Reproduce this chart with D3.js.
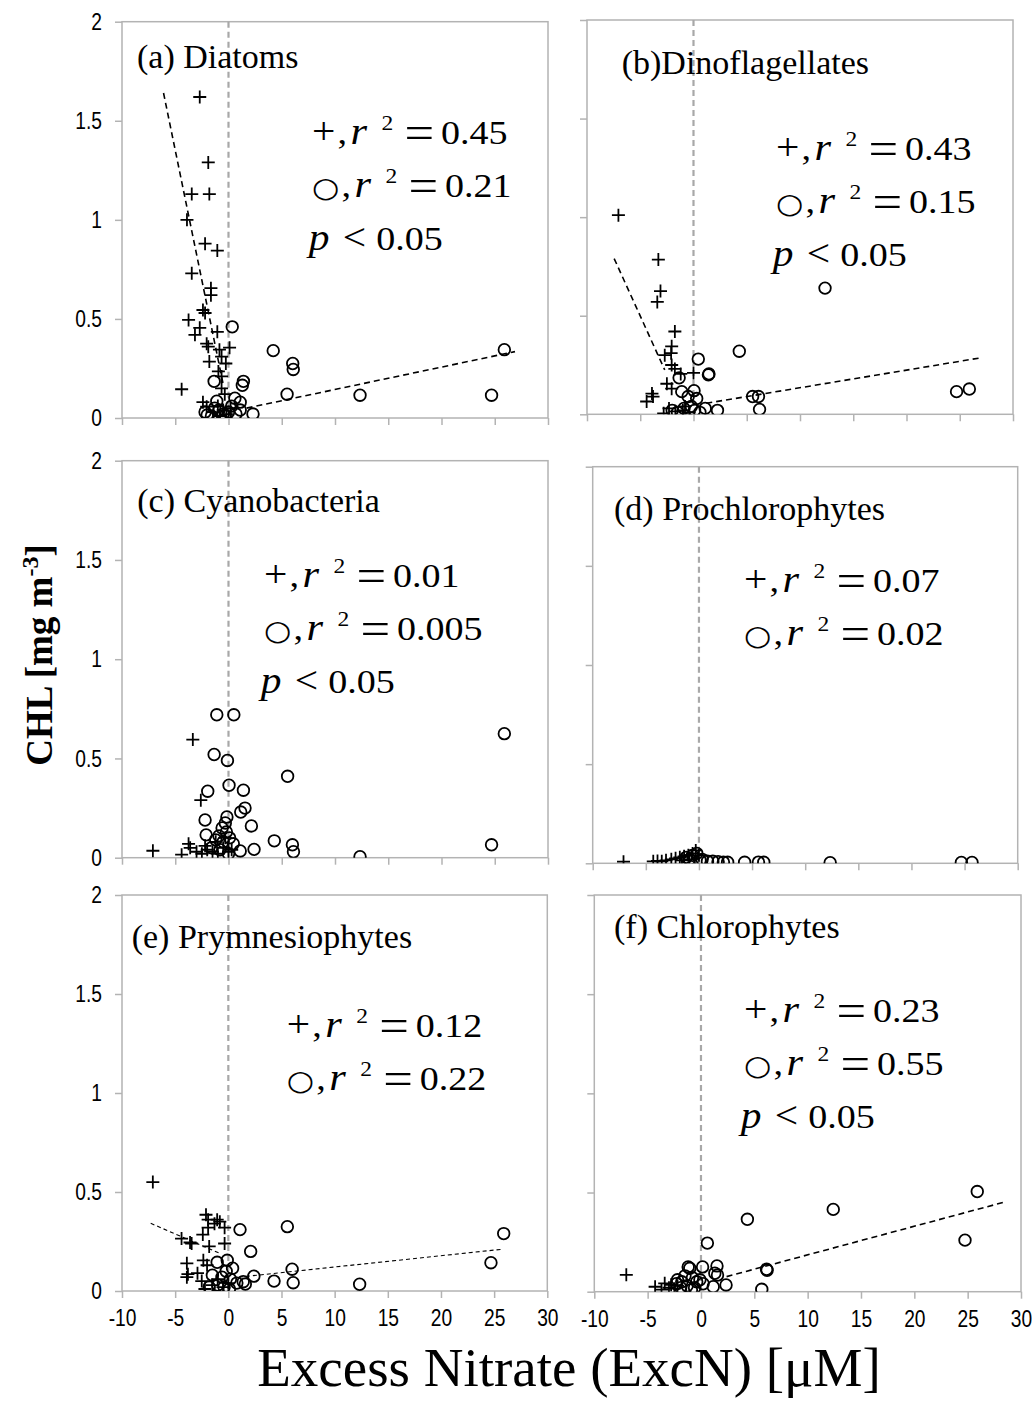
<!DOCTYPE html>
<html>
<head>
<meta charset="utf-8">
<script src="https://cdn.jsdelivr.net/npm/d3@7"></script>
<style>
  body { margin: 0; background: #fff; }
  svg { display: block; }
</style>
</head>
<body>
<svg width="1032" height="1408"></svg>
<script>
// ---- axis setup shared by all six panels
const xDomain = [-10, 30];
const yDomain = [0, 2];
const xTicks = [-10, -5, 0, 5, 10, 15, 20, 25, 30];
const yTicks = [0, 0.5, 1, 1.5, 2];

// ---- (a) Diatoms  [ExcN, CHL]
const diatomsPlus = [[-2.7,1.62],[-1.9,1.29],[-3.45,1.13],[-1.8,1.13],[-3.9,1.0],[-2.2,0.88],[-1.05,0.845],
  [-3.45,0.73],[-1.65,0.655],[-1.65,0.62],[-2.4,0.545],[-2.2,0.53],[-3.75,0.495],[-2.7,0.455],[-3.15,0.42],
  [-1.05,0.435],[-2.05,0.375],[-1.9,0.36],[-0.85,0.345],[0.1,0.355],[-0.65,0.31],[-0.25,0.275],[-1.8,0.285],
  [-0.95,0.235],[-0.65,0.21],[-4.4,0.145],[-0.65,0.15],[-0.35,0.12],[-2.4,0.08],[-2.05,0.057],[-1.0,0.06],
  [-0.5,0.04],[-0.2,0.02],[-1.4,0.03],[-0.8,0.01],[0.2,0.05]];
const diatomsCircle = [[0.35,0.46],[4.2,0.34],[6.03,0.275],[6.08,0.245],[1.4,0.185],[1.3,0.165],[-1.35,0.185],
  [5.5,0.12],[0.6,0.1],[1.1,0.08],[1.1,0.04],[2.3,0.02],[-2.2,0.03],[-1.1,0.085],[12.35,0.115],[24.7,0.115],
  [25.9,0.345],[0.3,0.06],[-0.5,0.02],[-1.6,0.01],[-0.9,0.04],[0.0,0.03],[-0.3,0.01],[0.7,0.02],[-1.3,0.05],[-2.0,0.015]];
const diatomsPlusFit = [[-6.1,1.64],[-0.5,0.17]];
const diatomsCircleFit = [[1.7,0.05],[26.9,0.335]];
const diatomsStats = ["0.45", "0.21", "0.05"];

// ---- (b) Dinoflagellates
const dinoPlus = [[-7.05,1.01],[-3.3,0.785],[-3.1,0.625],[-3.4,0.57],[-1.75,0.42],[-2.05,0.345],[-2.1,0.31],
  [-2.7,0.3],[-2.05,0.25],[-1.75,0.23],[0.0,0.21],[-2.5,0.155],[-2.05,0.13],[-3.9,0.105],[-3.8,0.09],[-4.4,0.065],
  [-1.2,0.205],[-2.3,0.03],[-1.7,0.015],[-1.0,0.02],[-0.4,0.01],[-2.8,0.005],[-0.8,0.04]];
const dinoCircle = [[0.45,0.28],[4.3,0.32],[1.4,0.2],[1.45,0.205],[-1.35,0.185],[-1.1,0.115],[0.05,0.12],
  [-0.5,0.09],[0.3,0.08],[1.1,0.03],[2.25,0.02],[5.55,0.09],[6.1,0.09],[6.2,0.025],[12.35,0.64],[24.7,0.115],
  [25.9,0.128],[-0.2,0.04],[-1.5,0.01],[-0.9,0.03],[0.6,0.01],[-2.0,0.02],[0.1,0.02]];
const dinoPlusFit = [[-7.45,0.79],[-2.7,0.225]];
const dinoCircleFit = [[1.2,0.056],[26.8,0.285]];
const dinoStats = ["0.43", "0.15", "0.05"];

// ---- (c) Cyanobacteria
const cyanoPlus = [[-3.35,0.595],[-2.6,0.29],[-7.1,0.035],[-3.75,0.07],[-3.6,0.05],[-4.4,0.015],[-3.0,0.03],
  [-2.5,0.02],[-2.0,0.04],[-1.5,0.03],[-1.0,0.02],[-0.5,0.05],[0.0,0.03],[-2.2,0.06],[-1.2,0.08],[-0.3,0.1],[0.3,0.04]];
const cyanoCircle = [[-1.1,0.72],[0.5,0.72],[-1.35,0.52],[-0.1,0.49],[5.55,0.41],[0.05,0.365],[-1.95,0.335],
  [1.4,0.34],[1.55,0.25],[1.15,0.23],[-2.2,0.19],[-0.15,0.205],[-0.3,0.175],[2.15,0.16],[-2.1,0.115],[-0.9,0.11],
  [-1.2,0.09],[-0.5,0.08],[0.1,0.1],[0.45,0.07],[4.3,0.085],[6.0,0.065],[6.1,0.03],[2.4,0.042],[1.1,0.034],
  [12.35,0.005],[24.7,0.065],[25.9,0.625],[-1.6,0.05],[-0.6,0.15],[-0.2,0.13],[-0.8,0.04],[0.0,0.02]];
const cyanoStats = ["0.01", "0.005", "0.05"];

// ---- (d) Prochlorophytes
const prochloPlus = [[-7.1,0.008],[-4.3,0.01],[-3.9,0.012],[-3.5,0.01],[-3.1,0.015],[-2.6,0.02],[-2.2,0.025],
  [-1.8,0.03],[-1.4,0.035],[-1.0,0.04],[-0.6,0.05],[-0.3,0.065],[0.0,0.04],[-0.9,0.02],[-1.6,0.015]];
const prochloCircle = [[-1.2,0.03],[-0.6,0.04],[-0.2,0.05],[0.3,0.02],[0.8,0.01],[1.3,0.01],[1.8,0.008],
  [2.3,0.006],[2.7,0.005],[4.3,0.005],[5.6,0.006],[6.1,0.005],[12.35,0.003],[24.7,0.004],[25.7,0.004],[-0.9,0.02],[0.1,0.015]];
const prochloStats = ["0.07", "0.02"];

// ---- (e) Prymnesiophytes
const prymPlus = [[-7.1,0.55],[-2.1,0.385],[-1.9,0.36],[-1.05,0.36],[-0.8,0.35],[-1.3,0.34],[-0.35,0.32],
  [-1.9,0.32],[-2.4,0.285],[-4.4,0.265],[-3.45,0.24],[-3.6,0.245],[-1.8,0.225],[-0.35,0.24],[-3.9,0.14],
  [-2.35,0.155],[-3.8,0.085],[-2.9,0.09],[-2.0,0.13],[-3.9,0.07],[-2.5,0.05],[-1.5,0.03],[-1.0,0.06],
  [-2.2,0.01],[-0.5,0.02],[0.0,0.04]];
const prymCircle = [[1.1,0.31],[5.55,0.325],[2.1,0.2],[6.0,0.11],[6.1,0.042],[4.3,0.05],[2.4,0.075],
  [-1.05,0.145],[-0.1,0.155],[0.4,0.115],[1.4,0.047],[1.6,0.035],[12.35,0.034],[24.7,0.143],[25.9,0.29],
  [-1.5,0.08],[-0.6,0.07],[-0.2,0.1],[0.2,0.06],[-1.0,0.03],[-0.4,0.02],[0.8,0.04],[-1.8,0.02],[0.1,0.01]];
const prymPlusFit = [[-7.3,0.342],[-0.8,0.19]];
const prymCircleFit = [[1.0,0.07],[25.6,0.21]];
const prymStats = ["0.12", "0.22"];

// ---- (f) Chlorophytes
const chloroPlus = [[-7.0,0.085],[-4.3,0.025],[-3.4,0.042],[-3.7,0.01],[-3.0,0.02],[-2.8,0.035],[-2.5,0.015],[-2.2,0.03]];
const chloroCircle = [[4.35,0.365],[0.6,0.245],[0.15,0.125],[1.5,0.13],[1.3,0.093],[1.55,0.084],[6.15,0.113],
  [6.2,0.108],[5.7,0.012],[2.35,0.034],[1.15,0.025],[-1.05,0.118],[-1.2,0.125],[12.4,0.415],[25.9,0.505],
  [24.75,0.26],[-2.2,0.06],[-1.8,0.05],[-1.5,0.08],[-0.8,0.07],[-0.4,0.05],[-0.1,0.06],[-1.9,0.02],[-1.3,0.03],
  [-0.6,0.02],[0.2,0.04],[-2.3,0.04],[-0.9,0.01]];
const chloroCircleFit = [[2.4,0.076],[28.6,0.454]];
const chloroStats = ["0.23", "0.55", "0.05"];

const titles = ["(a) Diatoms", "(b)Dinoflagellates", "(c) Cyanobacteria", "(d) Prochlorophytes",
  "(e) Prymnesiophytes", "(f) Chlorophytes"];

var serif = "'Liberation Serif','Times New Roman',Times,serif";
var sans = "'Liberation Sans',Arial,sans-serif";
var grey = "#b3b3b3";

// panel boxes (pixels) and where the texts sit inside them
var panels = [
  { plus: diatomsPlus, circ: diatomsCircle, plusFit: diatomsPlusFit, circFit: diatomsCircleFit, stats: diatomsStats,
    x0: 122, x1: 548, y0: 21.7, y1: 418, row: 0, col: 0, tx: 15, ty: 46.5, sx: 190, sy: 122.3 },
  { plus: dinoPlus, circ: dinoCircle, plusFit: dinoPlusFit, circFit: dinoCircleFit, stats: dinoStats,
    x0: 587, x1: 1013, y0: 20, y1: 414.3, row: 0, col: 1, tx: 34.7, ty: 54, sx: 189, sy: 140 },
  { plus: cyanoPlus, circ: cyanoCircle, stats: cyanoStats,
    x0: 122, x1: 548, y0: 460.7, y1: 857.7, row: 1, col: 0, tx: 15.3, ty: 51, sx: 142, sy: 126 },
  { plus: prochloPlus, circ: prochloCircle, stats: prochloStats,
    x0: 592.7, x1: 1017.7, y0: 466.7, y1: 863.3, row: 1, col: 1, tx: 21.3, ty: 53.3, sx: 151.3, sy: 125 },
  { plus: prymPlus, circ: prymCircle, plusFit: prymPlusFit, circFit: prymCircleFit, stats: prymStats, thinFit: true,
    x0: 122, x1: 547.3, y0: 895, y1: 1291, row: 2, col: 0, tx: 9.7, ty: 53.3, sx: 164.7, sy: 141.7 },
  { plus: chloroPlus, circ: chloroCircle, circFit: chloroCircleFit, stats: chloroStats,
    x0: 594.3, x1: 1021, y0: 895, y1: 1291.7, row: 2, col: 1, tx: 19.7, ty: 43.3, sx: 149.7, sy: 126.7 }
];

var svg = d3.select("svg");
var defs = svg.append("defs");

panels.forEach((p, i) => {
  var x = d3.scaleLinear().domain(xDomain).range([p.x0, p.x1]);
  var y = d3.scaleLinear().domain(yDomain).range([p.y1, p.y0]);
  var g = svg.append("g");

  defs.append("clipPath").attr("id", "clip" + i)
    .append("rect").attr("x", p.x0).attr("y", p.y0)
    .attr("width", p.x1 - p.x0).attr("height", p.y1 - p.y0);

  // ticks (outward) - labels only on the outer panels
  var xa = g.append("g").attr("transform", "translate(0," + p.y1 + ")")
    .call(d3.axisBottom(x).tickValues(xTicks).tickSize(7).tickPadding(11)
      .tickFormat(p.row === 2 ? (d) => String(d) : () => ""));
  var ya = g.append("g").attr("transform", "translate(" + p.x0 + ",0)")
    .call(d3.axisLeft(y).tickValues(yTicks).tickSize(7).tickPadding(13)
      .tickFormat(p.col === 0 ? d3.format("~g") : () => ""));
  [xa, ya].forEach((a) => {
    a.select(".domain").remove();
    a.selectAll(".tick line").attr("stroke", grey).attr("stroke-width", 1.5);
    a.selectAll(".tick text").attr("font-family", sans).attr("font-size", 24).attr("fill", "#000")
      .attr("transform", "scale(0.8,1)");
  });
  ya.selectAll(".tick text").attr("x", -20 / 0.8);

  // frame
  g.append("rect").attr("x", p.x0).attr("y", p.y0)
    .attr("width", p.x1 - p.x0).attr("height", p.y1 - p.y0)
    .attr("fill", "none").attr("stroke", grey).attr("stroke-width", 1.5);

  // zero nitrate line
  g.append("line").attr("x1", x(0)).attr("x2", x(0)).attr("y1", y(2)).attr("y2", y(0))
    .attr("stroke", "#a8a8a8").attr("stroke-width", 2.2).attr("stroke-dasharray", "6,4");

  var marks = g.append("g").attr("clip-path", "url(#clip" + i + ")");

  marks.selectAll("circle").data(p.circ).enter().append("circle")
    .attr("cx", (d) => x(d[0])).attr("cy", (d) => y(d[1])).attr("r", 5.8)
    .attr("fill", "none").attr("stroke", "#000").attr("stroke-width", 1.8);

  marks.selectAll("path.plus").data(p.plus).enter().append("path").attr("class", "plus")
    .attr("transform", (d) => "translate(" + x(d[0]) + "," + y(d[1]) + ")")
    .attr("d", "M-6.5,0H6.5M0,-6.5V6.5")
    .attr("stroke", "#000").attr("stroke-width", 1.8);

  var line = d3.line().x((d) => x(d[0])).y((d) => y(d[1]));
  [p.plusFit, p.circFit].forEach((f) => {
    if (!f) return;
    marks.append("path").attr("d", line(f)).attr("fill", "none").attr("stroke", "#000")
      .attr("stroke-width", p.thinFit ? 1.1 : 1.6)
      .attr("stroke-dasharray", p.thinFit ? "4,3" : "6,4");
  });

  // panel title
  g.append("text").attr("x", p.x0 + p.tx).attr("y", p.y0 + p.ty)
    .attr("font-family", serif).attr("font-size", 34).text(titles[i]);

  // r^2 and p annotations
  ["+", "\u25CB"].forEach((m, k) => {
    var t = g.append("text")
      .attr("transform", "translate(" + (p.x0 + p.sx) + "," + (p.y0 + p.sy + k * 53) + ") scale(1.12,1)")
      .attr("font-family", serif).attr("font-size", 34);
    if (k === 0) t.append("tspan").attr("font-size", 37).text(m);
    else t.append("tspan").attr("font-family", "'DejaVu Sans',sans-serif").attr("font-size", 28).text(m);
    t.append("tspan").attr("dx", 2).text(",");
    t.append("tspan").attr("dx", 3).attr("font-style", "italic").attr("font-size", 38).text("r");
    t.append("tspan").attr("dx", 13).attr("dy", -14).attr("font-size", 21).text("2");
    t.append("tspan").attr("dx", 10).attr("dy", 18).attr("font-size", 47).text("=");
    t.append("tspan").attr("dx", 6).attr("dy", -4).text(p.stats[k]);
  });
  if (p.stats.length > 2) {
    var t = g.append("text")
      .attr("transform", "translate(" + (p.x0 + p.sx) + "," + (p.y0 + p.sy + 106) + ") scale(1.12,1)")
      .attr("font-family", serif).attr("font-size", 34);
    t.append("tspan").attr("dx", -3).attr("font-style", "italic").attr("font-size", 37).text("p");
    t.append("tspan").attr("dx", 12).attr("font-size", 37).text("<");
    t.append("tspan").attr("dx", 9).text(p.stats[2]);
  }
});

// axis titles
var yt = svg.append("text")
  .attr("transform", "translate(52,655) rotate(-90)")
  .attr("text-anchor", "middle").attr("font-family", serif)
  .attr("font-weight", "bold").attr("font-size", 37);
yt.append("tspan").text("CHL [mg m");
yt.append("tspan").attr("dy", -14).attr("font-size", 24).text("-3");
yt.append("tspan").attr("dy", 14).text("]");

svg.append("text").attr("x", 569).attr("y", 1386)
  .attr("text-anchor", "middle").attr("font-family", serif).attr("font-size", 55)
  .text("Excess Nitrate (ExcN) [\u03BCM]");
</script>
</body>
</html>
